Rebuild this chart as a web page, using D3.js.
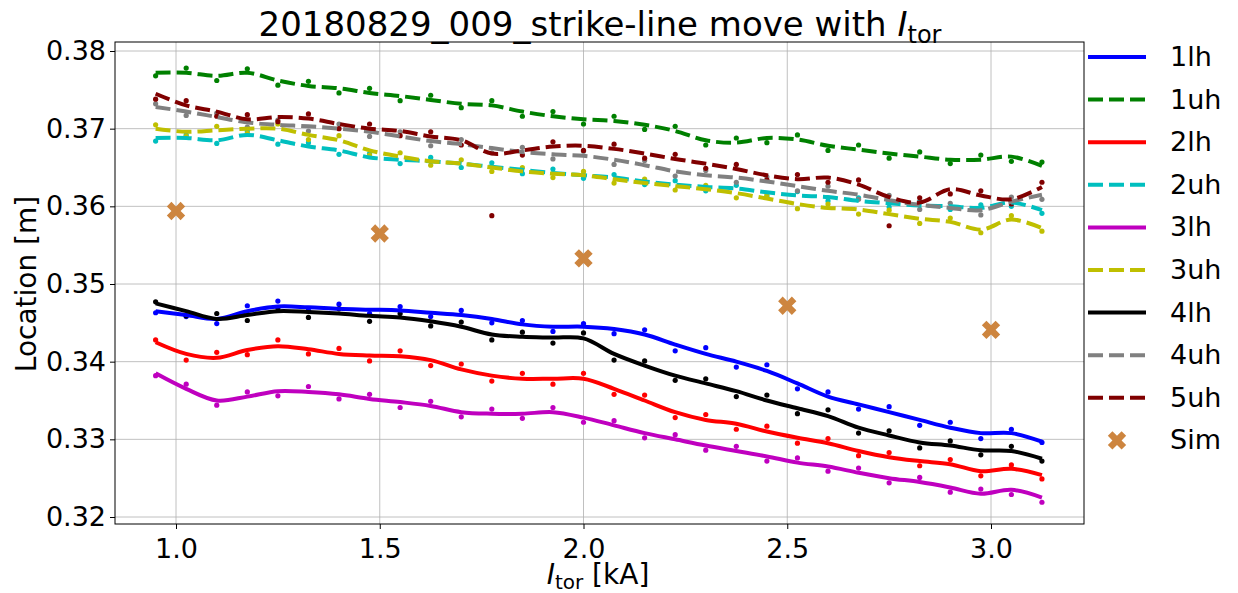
<!DOCTYPE html>
<html>
<head>
<meta charset="utf-8">
<script src="https://cdn.jsdelivr.net/npm/d3@7"></script>
<style>
  body { margin: 0; background: #fff; }
  text { font-family: "DejaVu Sans", sans-serif; }
</style>
</head>
<body>
<svg id="chart" width="1238" height="593"></svg>
<script>
// x positions (kA) shared by the smoothed lines and the raw points
const xs = [0.95,1.025,1.10,1.175,1.25,1.325,1.40,1.475,1.55,1.625,1.70,1.775,1.85,1.925,2.00,2.075,2.15,2.225,2.30,2.375,2.45,2.525,2.60,2.675,2.75,2.825,2.90,2.975,3.05,3.125];

const line1lh = [0.3465,0.346,0.3455,0.3465,0.3471,0.347,0.3468,0.3467,0.3466,0.3463,0.346,0.3455,0.3448,0.3445,0.3445,0.3442,0.3435,0.3422,0.341,0.34,0.3388,0.3372,0.3355,0.3345,0.3335,0.3325,0.3315,0.3308,0.3308,0.3297];
const dots1lh = [0.3463,0.3458,0.3449,0.3472,0.3478,0.3466,0.3474,0.3462,0.3471,0.3458,0.3466,0.3450,0.3453,0.3439,0.3449,0.3436,0.3441,0.3414,0.3418,0.3393,0.3396,0.3365,0.3361,0.3339,0.3342,0.3318,0.3322,0.3301,0.3313,0.3296];
const line1uh = [0.3772,0.3772,0.3768,0.3772,0.3762,0.3755,0.3752,0.3746,0.3742,0.3737,0.3732,0.373,0.3722,0.3716,0.3712,0.371,0.3705,0.3697,0.3685,0.3682,0.3688,0.3686,0.3678,0.3673,0.3668,0.3664,0.366,0.366,0.3664,0.3652];
const dots1uh = [0.3768,0.3778,0.3762,0.3777,0.3756,0.3761,0.3746,0.3752,0.3736,0.3743,0.3727,0.3736,0.3716,0.3722,0.3706,0.3716,0.3699,0.3703,0.3679,0.3688,0.3682,0.3692,0.3672,0.3679,0.3662,0.3670,0.3655,0.3666,0.3658,0.3657];
const line2lh = [0.3425,0.341,0.3405,0.3415,0.342,0.3416,0.341,0.3408,0.3407,0.3402,0.339,0.3382,0.3378,0.3378,0.3378,0.3365,0.335,0.3335,0.3325,0.332,0.331,0.3302,0.3295,0.3285,0.3277,0.3272,0.3268,0.3259,0.3262,0.3254];
const dots2lh = [0.3428,0.3402,0.3412,0.3409,0.3428,0.3410,0.3417,0.3401,0.3414,0.3395,0.3397,0.3375,0.3385,0.3371,0.3385,0.3358,0.3357,0.3328,0.3332,0.3313,0.3317,0.3295,0.3301,0.3279,0.3283,0.3266,0.3274,0.3253,0.3267,0.3249];
const line2uh = [0.3688,0.3688,0.3685,0.3692,0.3685,0.3677,0.3672,0.3663,0.366,0.3658,0.3655,0.3651,0.3647,0.3643,0.364,0.3637,0.3632,0.3628,0.3625,0.3623,0.3618,0.3614,0.3612,0.3607,0.3604,0.3601,0.36,0.3598,0.3605,0.3595];
const dots2uh = [0.3684,0.3692,0.3681,0.3697,0.3680,0.3682,0.3667,0.3668,0.3655,0.3663,0.3650,0.3656,0.3642,0.3648,0.3636,0.3641,0.3628,0.3633,0.3620,0.3627,0.3613,0.3619,0.3607,0.3611,0.3599,0.3606,0.3596,0.3602,0.3600,0.3591];
const line3lh = [0.3385,0.3365,0.335,0.3355,0.3362,0.3361,0.3358,0.3352,0.3348,0.3343,0.3335,0.3333,0.3333,0.3335,0.3328,0.3318,0.3308,0.33,0.3292,0.3285,0.3278,0.327,0.3265,0.3257,0.325,0.3245,0.3238,0.323,0.3235,0.3225];
const dots3lh = [0.3382,0.3371,0.3344,0.3361,0.3356,0.3368,0.3352,0.3358,0.3341,0.3349,0.3329,0.3339,0.3327,0.3341,0.3322,0.3324,0.3302,0.3306,0.3286,0.3291,0.3272,0.3276,0.3259,0.3263,0.3244,0.3251,0.3232,0.3236,0.3229,0.3219];
const line3uh = [0.37,0.3696,0.3698,0.37,0.37,0.3692,0.3685,0.3672,0.3664,0.3658,0.3655,0.365,0.3645,0.3642,0.364,0.3635,0.363,0.3626,0.3622,0.3617,0.361,0.3603,0.3598,0.3596,0.359,0.3584,0.358,0.357,0.3583,0.3572];
const dots3uh = [0.3705,0.3690,0.3703,0.3694,0.3706,0.3686,0.3691,0.3666,0.3669,0.3653,0.3660,0.3645,0.3650,0.3637,0.3645,0.3630,0.3635,0.3621,0.3627,0.3611,0.3615,0.3597,0.3603,0.3590,0.3595,0.3578,0.3585,0.3566,0.3588,0.3568];
const line4lh = [0.3475,0.3465,0.3455,0.346,0.3465,0.3464,0.3462,0.3459,0.3457,0.3452,0.3445,0.3435,0.3432,0.3431,0.343,0.341,0.3395,0.3382,0.3372,0.3362,0.335,0.334,0.333,0.3315,0.3305,0.3296,0.3292,0.3286,0.3285,0.3275];
const dots4lh = [0.3477,0.3459,0.3462,0.3453,0.3469,0.3457,0.3468,0.3452,0.3462,0.3446,0.3451,0.3428,0.3438,0.3424,0.3437,0.3402,0.3401,0.3376,0.3378,0.3355,0.3357,0.3333,0.3338,0.3308,0.3311,0.3289,0.3298,0.3280,0.3291,0.3272];
const line4uh = [0.3728,0.3722,0.3715,0.3708,0.3705,0.3703,0.37,0.3696,0.369,0.3684,0.368,0.3675,0.367,0.3667,0.3665,0.366,0.3653,0.3645,0.364,0.3637,0.3632,0.3626,0.362,0.3615,0.3608,0.3602,0.3598,0.3595,0.3606,0.3615];
const dots4uh = [0.3732,0.3717,0.3720,0.3702,0.3711,0.3697,0.3706,0.3690,0.3696,0.3678,0.3686,0.3669,0.3676,0.3661,0.3671,0.3654,0.3659,0.3639,0.3646,0.3631,0.3638,0.3620,0.3626,0.3609,0.3614,0.3596,0.3604,0.3589,0.3612,0.3609];
const line5uh = [0.3745,0.373,0.3722,0.3712,0.3715,0.3713,0.3706,0.37,0.3697,0.369,0.3685,0.3668,0.3672,0.3677,0.3678,0.3674,0.3668,0.3661,0.3655,0.3648,0.364,0.3635,0.3637,0.3628,0.3612,0.3605,0.3622,0.3614,0.3609,0.3625];
const dots5uh = [0.3738,0.3736,0.3716,0.3718,0.3709,0.3719,0.3700,0.3706,0.3691,0.3696,0.3679,0.3588,0.3666,0.3683,0.3672,0.3680,0.3662,0.3667,0.3649,0.3654,0.3634,0.3641,0.3631,0.3634,0.3575,0.3611,0.3616,0.3620,0.3603,0.3631];

const simX = [1.0, 1.5, 2.0, 2.5, 3.0];
const simY = [0.3594, 0.3565, 0.3533, 0.3472, 0.3441];

const xTicks = [1.0, 1.5, 2.0, 2.5, 3.0];
const yTicks = [0.32, 0.33, 0.34, 0.35, 0.36, 0.37, 0.38];

const series = [
  { name: "1lh", color: "#0000ff", dash: false, line: line1lh, dots: dots1lh },
  { name: "1uh", color: "#008000", dash: true,  line: line1uh, dots: dots1uh },
  { name: "2lh", color: "#ff0000", dash: false, line: line2lh, dots: dots2lh },
  { name: "2uh", color: "#00bfbf", dash: true,  line: line2uh, dots: dots2uh },
  { name: "3lh", color: "#bf00bf", dash: false, line: line3lh, dots: dots3lh },
  { name: "3uh", color: "#bfbf00", dash: true,  line: line3uh, dots: dots3uh },
  { name: "4lh", color: "#000000", dash: false, line: line4lh, dots: dots4lh },
  { name: "4uh", color: "#808080", dash: true,  line: line4uh, dots: dots4uh },
  { name: "5uh", color: "#800000", dash: true,  line: line5uh, dots: dots5uh }
];
const simColor = "#cd853f";

const svg = d3.select("#chart");
const L = 115, R = 1084, T = 42, B = 524;
const x = d3.scaleLinear().domain([0.8503, 3.2282]).range([L, R]);
const y = d3.scaleLinear().domain([0.32, 0.38]).range([517, 51]);

// grid
svg.append("g").selectAll("line").data(xTicks).join("line")
  .attr("x1", d => x(d)).attr("x2", d => x(d)).attr("y1", T).attr("y2", B)
  .attr("stroke", "#b0b0b0").attr("stroke-width", 0.8);
svg.append("g").selectAll("line").data(yTicks).join("line")
  .attr("x1", L).attr("x2", R).attr("y1", d => y(d)).attr("y2", d => y(d))
  .attr("stroke", "#b0b0b0").attr("stroke-width", 0.8);

const plot = svg.append("g");
const lineGen = (vals) => d3.line().curve(d3.curveCatmullRom)
  .x((d, i) => x(xs[i])).y(d => y(d))(vals);

series.forEach(s => {
  plot.append("g").selectAll("circle").data(s.dots).join("circle")
    .attr("cx", (d, i) => x(xs[i])).attr("cy", d => y(d)).attr("r", 2.6)
    .attr("fill", s.color);
});
series.forEach(s => {
  plot.append("path").attr("d", lineGen(s.line))
    .attr("fill", "none").attr("stroke", s.color).attr("stroke-width", 4)
    .attr("stroke-dasharray", s.dash ? "15,6" : null);
});

const xMark = d3.symbol().type(d3.symbolCross).size(210);
plot.append("g").selectAll("path").data(simX).join("path")
  .attr("d", xMark)
  .attr("transform", (d, i) => `translate(${x(d)},${y(simY[i])}) rotate(45)`)
  .attr("fill", simColor);

// axes
const xa = svg.append("g").attr("transform", `translate(0,${B})`)
  .call(d3.axisBottom(x).tickValues(xTicks).tickFormat(d3.format(".1f")).tickSize(5));
const ya = svg.append("g").attr("transform", `translate(${L},0)`)
  .call(d3.axisLeft(y).tickValues(yTicks).tickFormat(d3.format(".2f")).tickSize(5));
[xa, ya].forEach(a => {
  a.select(".domain").remove();
  a.selectAll("text").attr("font-size", 27).attr("fill", "#000")
    .attr("font-family", "DejaVu Sans, sans-serif");
});
xa.selectAll("text").attr("dy", "0.95em");
ya.selectAll("text").attr("x", -9);
svg.append("rect").attr("x", L).attr("y", T).attr("width", R - L).attr("height", B - T)
  .attr("fill", "none").attr("stroke", "#000").attr("stroke-width", 1);

// titles
const title = svg.append("text").attr("x", 600).attr("y", 36).attr("text-anchor", "middle")
  .attr("font-size", 34);
title.append("tspan").text("20180829_009_strike-line move with ");
title.append("tspan").attr("font-style", "italic").text("I");
title.append("tspan").attr("font-size", 24).attr("dy", 7).text("tor");

const xl = svg.append("text").attr("x", 598).attr("y", 584).attr("text-anchor", "middle")
  .attr("font-size", 28);
xl.append("tspan").attr("font-style", "italic").text("I");
xl.append("tspan").attr("font-size", 20).attr("dy", 5).text("tor");
xl.append("tspan").attr("dy", -5).text(" [kA]");

svg.append("text").attr("transform", "translate(36,284) rotate(-90)")
  .attr("text-anchor", "middle").attr("font-size", 28).text("Location [m]");

// legend
const items = series.map(s => ({ name: s.name, color: s.color, dash: s.dash, sim: false }))
  .concat([{ name: "Sim", color: simColor, sim: true }]);
const lg = svg.append("g").selectAll("g").data(items).join("g")
  .attr("transform", (d, i) => `translate(1088,${57 + i * 42.6})`);
lg.filter(d => !d.sim).append("line").attr("x1", 0).attr("x2", 58)
  .attr("stroke", d => d.color).attr("stroke-width", 4)
  .attr("stroke-dasharray", d => d.dash ? "15,6" : null);
lg.filter(d => d.sim).append("path").attr("d", xMark)
  .attr("transform", "translate(29,0) rotate(45)").attr("fill", simColor);
lg.append("text").attr("x", 82).attr("y", 9).attr("font-size", 27).text(d => d.name);
</script>
</body>
</html>
